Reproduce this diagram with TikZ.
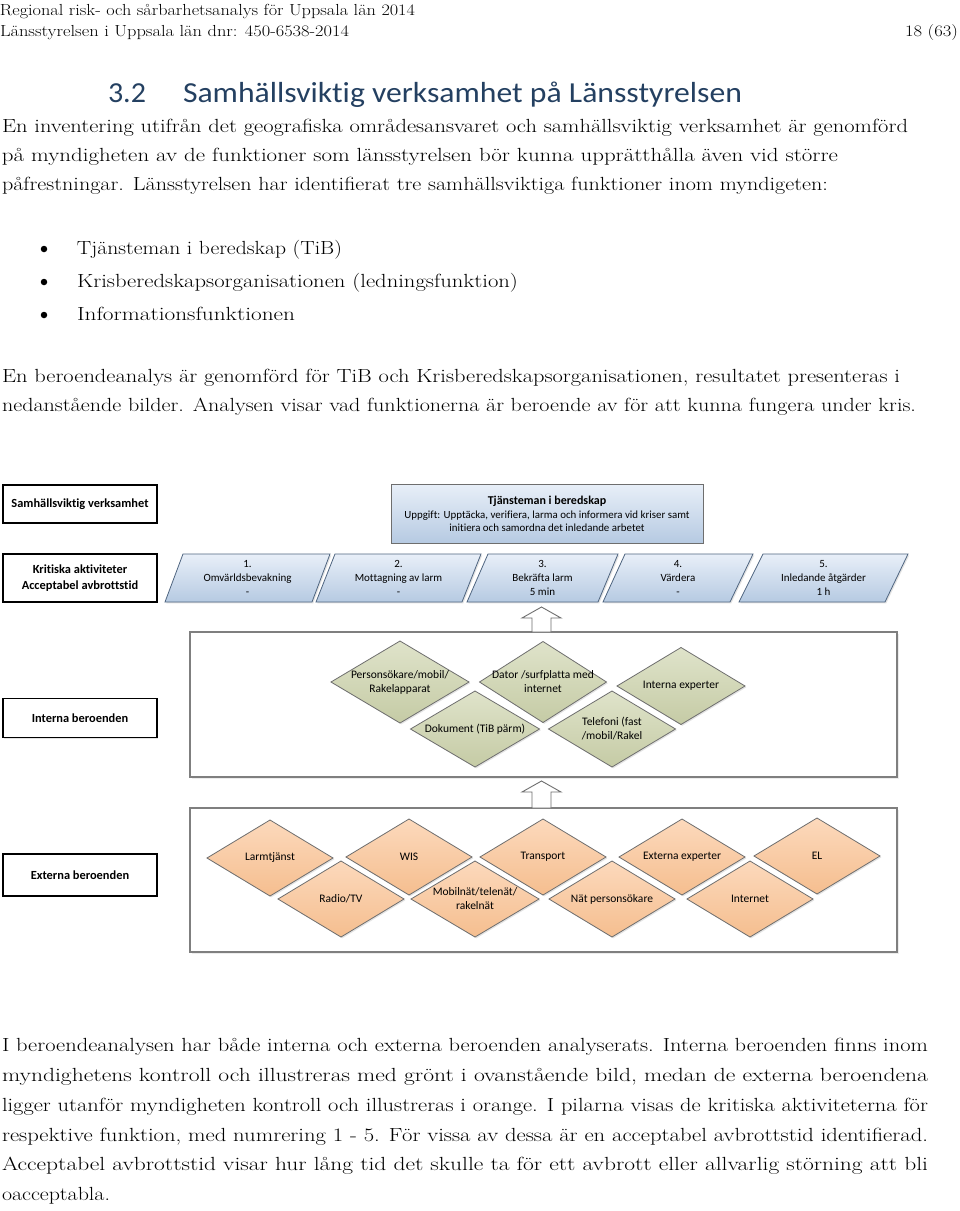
\documentclass[tikz,border=0pt]{standalone}
\usepackage{fontspec}
\usetikzlibrary{shadows}
\newfontfamily\calib[Ligatures=NoCommon]{Carlito}
\definecolor{titleblue}{HTML}{244061}
\definecolor{parT}{HTML}{E8EFF8}
\definecolor{parB}{HTML}{B6CAE2}
\definecolor{parD}{HTML}{4F6580}
\definecolor{grnT}{HTML}{DFE3CA}
\definecolor{grnB}{HTML}{C5CBA5}
\definecolor{orT}{HTML}{FCD9BC}
\definecolor{orB}{HTML}{F5BE8F}
\definecolor{dgray}{HTML}{6E6E6E}
\definecolor{boxgray}{HTML}{7F7F7F}
\newlength\fitlen
\newcommand\fitw[2]{\settowidth\fitlen{#2}\pgfmathsetmacro\fitr{#1/\fitlen}\scalebox{\fitr}[1]{#2}}
\newcommand\mypar[6]{%
  \draw[parst] (#2,602)--(#3,554)--(#4,554)--(#5,602)--cycle;
  \node[partxt] (#1) at ({(#2+#4)/2},578) {#6};}
\newcommand\mydia[7]{%
  \draw[#6] ({#2-#4/2},#3)--(#2,{#3-#5/2})--({#2+#4/2},#3)--(#2,{#3+#5/2})--cycle;
  \node[diatxt] (#1) at (#2,#3) {#7};}
\begin{document}
\begin{tikzpicture}[x=1pt,y=-1pt,
  body/.style={anchor=base west,inner sep=0pt,outer sep=0pt,font=\fontsize{19}{23}\selectfont},
  hdr/.style={anchor=base west,inner sep=0pt,outer sep=0pt,font=\fontsize{16}{19}\selectfont},
  ttl/.style={anchor=base west,inner sep=0pt,outer sep=0pt,font=\calib\fontsize{29}{34}\selectfont,text=titleblue},
  dot/.style={circle,fill=black,inner sep=0pt,minimum size=6.5pt},
  shad/.style={drop shadow={opacity=0.22,shadow xshift=1.3pt,shadow yshift=-1.3pt}},
  lbl/.style={draw=black,line width=1.2pt,fill=white,minimum width=154pt,inner sep=0pt,align=center,font=\calib\bfseries\fontsize{12.4}{16}\selectfont,shad},
  parst/.style={draw=parD,line width=0.8pt,top color=parT,bottom color=parB,shad},
  partxt/.style={inner sep=0pt,align=center,font=\calib\fontsize{11}{14}\selectfont},
  tib/.style={draw=dgray,line width=0.9pt,top color=parT,bottom color=parB,shad},
  grp/.style={draw=boxgray,line width=1.3pt,fill=white,drop shadow={opacity=0.15,shadow xshift=1.5pt,shadow yshift=-1.5pt}},
  grn/.style={draw=dgray,line width=0.8pt,top color=grnT,bottom color=grnB,shad},
  ora/.style={draw=dgray,line width=0.8pt,top color=orT,bottom color=orB,shad},
  diatxt/.style={inner sep=0pt,align=center,font=\calib\fontsize{11.5}{14}\selectfont},
  blockarrow/.style={draw=dgray,line width=0.9pt,fill=white}
]
\fill[white] (0,0) rectangle (960,1211);
\useasboundingbox (0,0) rectangle (960,1211);

% header
\node[hdr] (h1) at (0,15) {\fitw{415}{Regional risk- och sårbarhetsanalys för Uppsala län 2014}};
\node[hdr] (h2) at (0,36) {\fitw{349}{Länsstyrelsen i Uppsala län dnr: 450-6538-2014}};
\node[hdr,anchor=base east] (h3) at (958,36) {\fitw{53}{18 (63)}};

% title
\node[ttl] (t1) at (108,102) {\fitw{38}{3.2}};
\node[ttl] (t2) at (183,102) {\fitw{559}{Samhällsviktig verksamhet på Länsstyrelsen}};

% paragraph 1
\node[body] (p1a) at (2,132) {\fitw{906}{En inventering utifrån det geografiska områdesansvaret och samhällsviktig verksamhet är genomförd}};
\node[body] (p1b) at (2,161) {\fitw{836}{på myndigheten av de funktioner som länsstyrelsen bör kunna upprätthålla även vid större}};
\node[body] (p1c) at (2,190) {\fitw{826}{påfrestningar. Länsstyrelsen har identifierat tre samhällsviktiga funktioner inom myndigeten:}};

% bullets
\node[dot] (b1d) at (44,249) {};
\node[dot] (b2d) at (44,282) {};
\node[dot] (b3d) at (44,315) {};
\node[body] (b1) at (77,254) {\fitw{265}{Tjänsteman i beredskap (TiB)}};
\node[body] (b2) at (77,287) {\fitw{441}{Krisberedskapsorganisationen (ledningsfunktion)}};
\node[body] (b3) at (77,320) {\fitw{218}{Informationsfunktionen}};

% paragraph 2
\node[body] (p2a) at (2,382) {\fitw{898}{En beroendeanalys är genomförd för TiB och Krisberedskapsorganisationen, resultatet presenteras i}};
\node[body] (p2b) at (2,411) {\fitw{914}{nedanstående bilder. Analysen visar vad funktionerna är beroende av för att kunna fungera under kris.}};

% left labels
\node[lbl,minimum height=38pt] (l1) at (80,504) {Samhällsviktig verksamhet};
\node[lbl,minimum height=48pt] (l2) at (80,578) {Kritiska aktiviteter\\Acceptabel avbrottstid};
\node[lbl,minimum height=39pt] (l3) at (80,718) {Interna beroenden};
\node[lbl,minimum height=42pt] (l4) at (80,875) {Externa beroenden};

% TiB box
\draw[tib] (391,484) rectangle (703,543);
\node[inner sep=0pt,align=center,font=\calib\fontsize{10.9}{13.5}\selectfont] (tib) at (547,514)
  {{\bfseries\fontsize{12}{13.5}\selectfont Tjänsteman i beredskap}\\Uppgift: Upptäcka, verifiera, larma och informera vid kriser samt\\initiera och samordna det inledande arbetet};

% critical activities
\mypar{a1}{165}{183}{330}{312}{1.\\Omvärldsbevakning\\-}
\mypar{a2}{316}{335}{481}{462}{2.\\Mottagning av larm\\-}
\mypar{a3}{467}{488}{618}{598}{3.\\Bekräfta larm\\5 min}
\mypar{a4}{603}{625}{753}{730}{4.\\Värdera\\-}
\mypar{a5}{739}{763}{908}{885}{5.\\Inledande åtgärder\\1 h}

% internal dependencies
\node[grp,minimum width=707pt,minimum height=145pt,inner sep=0pt] (intbox) at (543.5,704.5) {};
\coordinate (ar1) at (541.5,632);
\draw[blockarrow] (ar1) ++(-9.5,0) -- ++(0,-14) -- ++(-10,0) -- ++(19.5,-11) -- ++(19.5,11) -- ++(-10,0) -- ++(0,14) -- cycle;
\mydia{i1}{400}{682}{138}{82}{grn}{Personsökare/mobil/\\Rakelapparat}
\mydia{i2}{543}{682}{127}{81}{grn}{Dator /surfplatta med\\internet}
\mydia{i3}{681}{686}{128}{77}{grn}{Interna experter}
\mydia{i4}{475}{729}{129}{76}{grn}{Dokument (TiB pärm)}
\mydia{i5}{612}{729}{127}{76}{grn}{Telefoni (fast\\/mobil/Rakel}

% external dependencies
\node[grp,minimum width=707pt,minimum height=144pt,inner sep=0pt] (extbox) at (543.5,880) {};
\coordinate (ar2) at (541.5,808);
\draw[blockarrow] (ar2) ++(-9.5,0) -- ++(0,-16) -- ++(-10,0) -- ++(19.5,-11) -- ++(19.5,11) -- ++(-10,0) -- ++(0,16) -- cycle;
\mydia{e1}{270}{858}{126}{76}{ora}{Larmtjänst}
\mydia{e2}{409}{857}{126}{76}{ora}{WIS}
\mydia{e3}{543}{857}{126}{76}{ora}{Transport}
\mydia{e4}{682}{857}{126}{76}{ora}{Externa experter}
\mydia{e5}{817}{856}{126}{76}{ora}{EL}
\mydia{e6}{341}{899}{126}{76}{ora}{Radio/TV}
\mydia{e7}{475}{899}{128}{76}{ora}{Mobilnät/telenät/\\rakelnät}
\mydia{e8}{612}{899}{126}{76}{ora}{Nät personsökare}
\mydia{e9}{750}{899}{126}{76}{ora}{Internet}

% paragraph 3
\node[body] (p3a) at (2,1051) {\fitw{926}{I beroendeanalysen har både interna och externa beroenden analyserats. Interna beroenden finns inom}};
\node[body] (p3b) at (2,1081) {\fitw{926}{myndighetens kontroll och illustreras med grönt i ovanstående bild, medan de externa beroendena}};
\node[body] (p3c) at (2,1111) {\fitw{926}{ligger utanför myndigheten kontroll och illustreras i orange. I pilarna visas de kritiska aktiviteterna för}};
\node[body] (p3d) at (2,1141) {\fitw{926}{respektive funktion, med numrering 1 - 5. För vissa av dessa är en acceptabel avbrottstid identifierad.}};
\node[body] (p3e) at (2,1170) {\fitw{926}{Acceptabel avbrottstid visar hur lång tid det skulle ta för ett avbrott eller allvarlig störning att bli}};
\node[body] (p3f) at (2,1200) {\fitw{108}{oacceptabla.}};
\end{tikzpicture}
\end{document}
